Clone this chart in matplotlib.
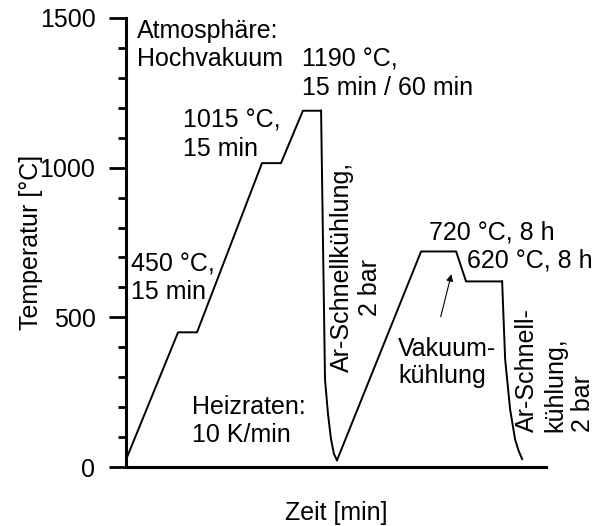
import numpy as np
import matplotlib
matplotlib.use("Agg")
import matplotlib.pyplot as plt

plt.rcParams['font.family'] = ['Liberation Sans', 'DejaVu Sans']

# heating path (time in min, temperature in degC)
t_heat = [0, 45, 61.4, 117.6, 134, 153, 168.7]
T_heat = [25, 450, 450, 1015, 1015, 1190, 1190]

# first Ar quench
t_quench1 = [168.7, 172.1, 174.7, 177.3, 179.9, 182.5]
T_quench1 = [1190, 293, 177, 93, 43, 23]

# reheat, 720 / 620 hold
t_age = [182.5, 255.2, 285.5, 294.1, 325.3]
T_age = [23, 720, 720, 620, 620]

# second Ar quench
t_quench2 = [325.3, 327.9, 332.2, 336.5, 339.5, 342.6]
T_quench2 = [620, 360, 193, 93, 55, 27]

fs = 18
lw = 1.4

fig = plt.figure(figsize=(6.03, 5.26), dpi=100)
ax = fig.add_axes([0.209, 0.112, 0.696, 0.854])

ax.plot(t_heat, T_heat, color='black', lw=lw)
ax.plot(t_quench1, T_quench1, color='black', lw=lw)
ax.plot(t_age, T_age, color='black', lw=lw)
ax.plot(t_quench2, T_quench2, color='black', lw=lw)

ax.set_xlim(0, 363)
ax.set_ylim(0, 1500)
ax.set_yticks([0, 500, 1000, 1500])
ax.set_yticks(np.arange(0, 1501, 100), minor=True)
ax.set_xticks([])
ax.tick_params(axis='y', which='major', length=12, width=2, labelsize=fs, pad=10)
ax.tick_params(axis='y', which='minor', length=6, width=2)
for s in ['top', 'right']:
    ax.spines[s].set_visible(False)
for s in ['left', 'bottom']:
    ax.spines[s].set_linewidth(2.2)

ax.set_xlabel('Zeit [min]', fontsize=fs)
ax.xaxis.set_label_coords(0.5, -0.075)
ax.set_ylabel('Temperatur [°C]', fontsize=fs)
ax.yaxis.set_label_coords(-0.197, 0.5)

ax.text(9.5, 1497, 'Atmosphäre:\nHochvakuum', fontsize=fs, ha='left', va='top')
ax.text(152.2, 1400, '1190 °C,\n15 min / 60 min', fontsize=fs, ha='left', va='top')
ax.text(49.3, 1196, '1015 °C,\n15 min', fontsize=fs, ha='left', va='top')
ax.text(4, 716, '450 °C,\n15 min', fontsize=fs, ha='left', va='top')
ax.text(57, 240, 'Heizraten:\n10 K/min', fontsize=fs, ha='left', va='top')
ax.text(262, 823, '720 °C, 8 h', fontsize=fs, ha='left', va='top')
ax.text(295, 730, '620 °C, 8 h', fontsize=fs, ha='left', va='top')
ax.text(235.3, 436, 'Vakuum-\nkühlung', fontsize=fs, ha='left', va='top')

ax.text(186.7, 670, 'Ar-Schnellkühlung,', fontsize=fs, rotation=90, ha='center', va='center')
ax.text(211, 600, '2 bar', fontsize=fs, rotation=90, ha='center', va='center')
ax.text(371, 117, 'Ar-Schnell-\nkühlung,\n2 bar', fontsize=fs, rotation=90,
        ha='center', va='bottom', multialignment='left')

ax.annotate('', xy=(282, 653), xytext=(271.6, 493),
            arrowprops=dict(arrowstyle='-|>', color='black', lw=0.8, mutation_scale=10))

fig.savefig('out.png', dpi=100)
